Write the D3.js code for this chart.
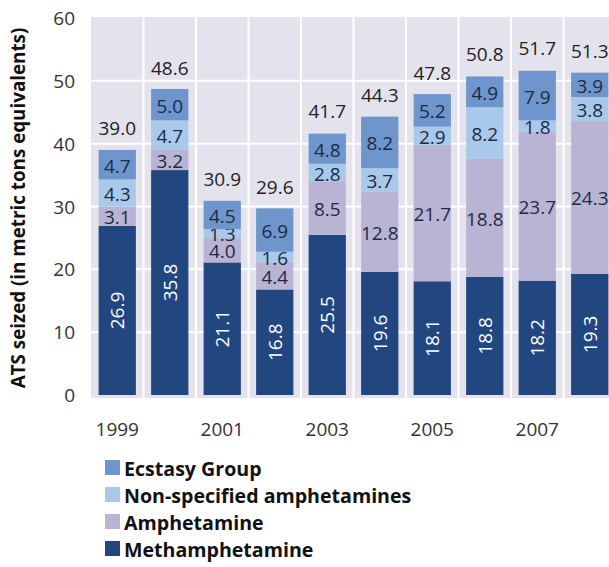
<!DOCTYPE html>
<meta charset="utf-8">
<style>
  body { margin: 0; background: #fff; }
  text { font-family: "Open Sans", sans-serif; }
</style>
<body>
<div id="chart"></div>
<script src="https://d3js.org/d3.v7.min.js"></script>
<script>
  const years = ["1999", "2000", "2001", "2002", "2003", "2004", "2005", "2006", "2007", "2008"];
  const yearLabels = ["1999", "2001", "2003", "2005", "2007"];
  const methamphetamine = [26.9, 35.8, 21.1, 16.8, 25.5, 19.6, 18.1, 18.8, 18.2, 19.3];
  const amphetamine = [3.1, 3.2, 4.0, 4.4, 8.5, 12.8, 21.7, 18.8, 23.7, 24.3];
  const nonSpecified = [4.3, 4.7, 1.3, 1.6, 2.8, 3.7, 2.9, 8.2, 1.8, 3.8];
  const ecstasy = [4.7, 5.0, 4.5, 6.9, 4.8, 8.2, 5.2, 4.9, 7.9, 3.9];
  const totals = [39.0, 48.6, 30.9, 29.6, 41.7, 44.3, 47.8, 50.8, 51.7, 51.3];
  const yTicks = [0, 10, 20, 30, 40, 50, 60];

  const seriesNames = ["Methamphetamine", "Amphetamine", "Non-specified amphetamines", "Ecstasy Group"];
  const seriesValues = [methamphetamine, amphetamine, nonSpecified, ecstasy];
  const colors = ["#22467f", "#bab4d4", "#a9c9ea", "#6e95cc"];

  const width = 609, height = 567;
  const plotLeft = 91, plotTop = 18, plotW = 525, plotH = 377;

  const svg = d3.select("#chart").append("svg")
    .attr("width", width)
    .attr("height", height);

  const x = d3.scaleBand().domain(years).range([plotLeft, plotLeft + plotW]).paddingInner(0.29).paddingOuter(0.145);
  const y = d3.scaleLinear().domain([0, 60]).range([plotTop + plotH, plotTop]);
  const step = x.step();

  // plot background
  svg.append("rect")
    .attr("x", plotLeft).attr("y", plotTop - 1)
    .attr("width", plotW).attr("height", plotH + 4)
    .attr("fill", "#e4e3ed");

  // grid
  svg.selectAll(".hgrid").data(yTicks.filter(d => d > 0 && d < 60)).join("line")
    .attr("x1", plotLeft).attr("x2", plotLeft + plotW)
    .attr("y1", d => y(d)).attr("y2", d => y(d))
    .attr("stroke", "#fff").attr("stroke-width", 2);
  svg.selectAll(".vgrid").data(years.slice(1)).join("line")
    .attr("x1", d => x(d) - (step - x.bandwidth()) / 2)
    .attr("x2", d => x(d) - (step - x.bandwidth()) / 2)
    .attr("y1", plotTop - 1).attr("y2", plotTop + plotH + 3)
    .attr("stroke", "#fff").attr("stroke-width", 2);

  const rows = years.map((yr, i) => {
    const r = { year: yr };
    seriesNames.forEach((s, j) => r[s] = seriesValues[j][i]);
    return r;
  });
  const stacked = d3.stack().keys(seriesNames)(rows);

  stacked.forEach((layer, j) => {
    const g = svg.append("g");
    g.selectAll("rect").data(layer).join("rect")
      .attr("x", d => x(d.data.year))
      .attr("y", d => y(d[1]))
      .attr("width", x.bandwidth())
      .attr("height", d => y(d[0]) - y(d[1]))
      .attr("fill", colors[j]);

    g.selectAll("text").data(layer).join("text")
      .attr("text-anchor", "middle")
      .attr("dominant-baseline", "central")
      .attr("font-size", 19)
      .attr("fill", j === 0 ? "#fff" : "#1d2a45")
      .attr("transform", d => {
        const cx = x(d.data.year) + x.bandwidth() / 2;
        const cy = (y(d[0]) + y(d[1])) / 2;
        return j === 0 ? `translate(${cx},${cy}) rotate(-90)` : `translate(${cx},${cy + 1})`;
      })
      .text(d => d.data[layer.key].toFixed(1));
  });

  // totals
  svg.selectAll(".total").data(years).join("text")
    .attr("x", d => x(d) + x.bandwidth() / 2)
    .attr("y", (d, i) => y(totals[i]) - 15)
    .attr("text-anchor", "middle")
    .attr("font-size", 19)
    .attr("fill", "#222")
    .text((d, i) => totals[i].toFixed(1));

  // y tick labels
  svg.selectAll(".ytick").data(yTicks).join("text")
    .attr("x", 75)
    .attr("y", d => y(d))
    .attr("dominant-baseline", "central")
    .attr("text-anchor", "end")
    .attr("font-size", 19)
    .attr("fill", "#333")
    .text(d => d);

  // x labels
  svg.selectAll(".xtick").data(yearLabels).join("text")
    .attr("x", d => x(d) + x.bandwidth() / 2)
    .attr("y", 436)
    .attr("text-anchor", "middle")
    .attr("font-size", 19)
    .attr("fill", "#333")
    .text(d => d);

  // y title
  svg.append("text")
    .attr("transform", `translate(25,208) rotate(-90)`)
    .attr("text-anchor", "middle")
    .attr("font-size", 18.8)
    .attr("font-weight", "bold")
    .attr("fill", "#111")
    .text("ATS seized (in metric tons equivalents)");

  // legend
  const legendOrder = [3, 2, 1, 0];
  const lg = svg.selectAll(".legend").data(legendOrder).join("g")
    .attr("transform", (d, i) => `translate(105,${468 + i * 27})`);
  lg.append("rect")
    .attr("x", 0).attr("y", -8)
    .attr("width", 15).attr("height", 15)
    .attr("fill", d => colors[d]);
  lg.append("text")
    .attr("x", 19).attr("y", 0)
    .attr("dominant-baseline", "central")
    .attr("font-size", 19.6)
    .attr("font-weight", "bold")
    .attr("fill", "#111")
    .text(d => seriesNames[d]);
</script>
</body>
